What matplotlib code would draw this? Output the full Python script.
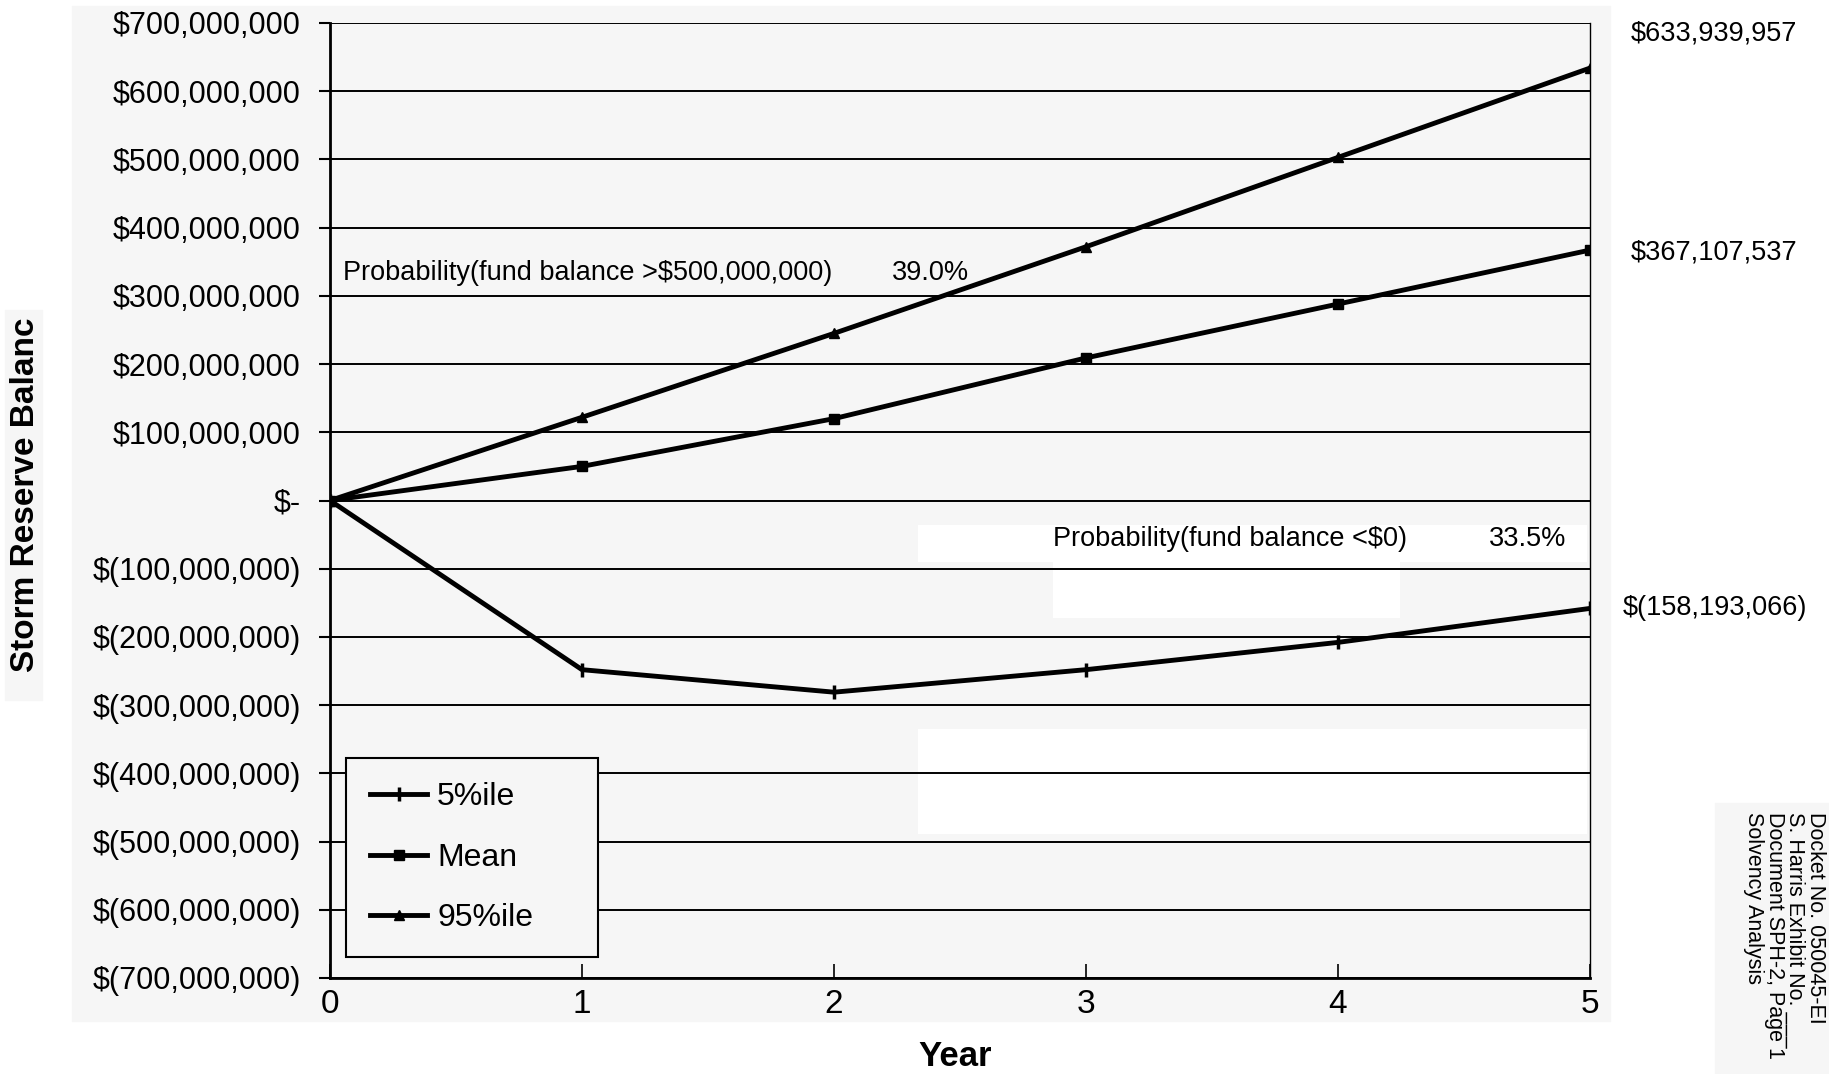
import matplotlib.pyplot as plt
from matplotlib.patches import Rectangle

years = [0, 1, 2, 3, 4, 5]
p05 = [0, -248e6, -281e6, -248e6, -208e6, -158.193066e6]
mean = [0, 50e6, 120e6, 209e6, 288e6, 367.107537e6]
p95 = [0, 122e6, 245e6, 372e6, 503e6, 633.939957e6]

y_ticks = [700e6, 600e6, 500e6, 400e6, 300e6, 200e6, 100e6, 0,
           -100e6, -200e6, -300e6, -400e6, -500e6, -600e6, -700e6]
y_labels = ["$700,000,000", "$600,000,000", "$500,000,000", "$400,000,000",
            "$300,000,000", "$200,000,000", "$100,000,000", "$-",
            "$(100,000,000)", "$(200,000,000)", "$(300,000,000)",
            "$(400,000,000)", "$(500,000,000)", "$(600,000,000)",
            "$(700,000,000)"]
end_labels = ["$633,939,957", "$367,107,537", "$(158,193,066)"]

plt.rcParams['font.family'] = ['Liberation Sans', 'DejaVu Sans']

W, H = 1829, 1074
fig = plt.figure(figsize=(W / 100, H / 100), dpi=100)
fig.patch.set_facecolor('white')

# light grey scanned background areas (pixel boxes -> figure fractions)
def fig_box(x0, y0, x1, y1, color='#f6f6f6'):
    fig.patches.append(Rectangle((x0 / W, 1 - y1 / H), (x1 - x0) / W, (y1 - y0) / H,
                                 transform=fig.transFigure, color=color, zorder=-5))

fig_box(72, 6, 1610, 1021)
fig_box(5, 310, 42, 700)
fig_box(1715, 803, 1829, 1074)

ax = fig.add_axes([330 / W, 1 - 978 / H, 1260 / W, 955 / H])
ax.set_facecolor('#f6f6f6')

# white patches left by the scan
def ax_box(x0, y0, x1, y1):
    ax.add_patch(Rectangle(((x0 - 330) / 1260, (978 - y1) / 955), (x1 - x0) / 1260,
                           (y1 - y0) / 955, transform=ax.transAxes, color='white',
                           zorder=0.2, lw=0))

ax_box(918, 525, 1587, 562)
ax_box(1053, 562, 1400, 618)
ax_box(918, 729, 1587, 834)

ax.plot(years, p05, color='black', lw=3.5, marker='|', ms=10, mew=2.5, label='5%ile', zorder=3)
ax.plot(years, mean, color='black', lw=3.5, marker='s', ms=7, label='Mean', zorder=3)
ax.plot(years, p95, color='black', lw=3.5, marker='^', ms=7, label='95%ile', zorder=3)

ax.set_xlim(0, 5)
ax.set_ylim(-700e6, 700e6)
ax.set_xticks(years)
ax.set_xticklabels([str(y) for y in years], fontsize=24)
ax.set_yticks(y_ticks)
ax.set_yticklabels(y_labels, fontsize=22)
ax.tick_params(axis='y', direction='out', length=8, width=1.5, pad=13)
ax.tick_params(axis='x', direction='in', length=10, width=1.2, pad=8)

ax.set_axisbelow(True)
ax.yaxis.grid(True, color='black', lw=1.4)
for s in ['left', 'bottom']:
    ax.spines[s].set_linewidth(2)
ax.spines['top'].set_visible(False)
ax.spines['right'].set_linewidth(1)

fig.text(26 / W, 1 - 495 / H, 'Storm Reserve Balanc', fontsize=24, fontweight='bold',
         rotation=90, ha='center', va='center')
fig.text(955 / W, 1 - 1057 / H, 'Year', fontsize=25, fontweight='bold',
         ha='center', va='center')

ax.text(0.05, 334e6, 'Probability(fund balance >$500,000,000)', fontsize=19.5,
        va='center', ha='left')
ax.text(2.23, 334e6, '39.0%', fontsize=19.5, va='center', ha='left')
ax.text(2.87, -56e6, 'Probability(fund balance <$0)', fontsize=19.5,
        va='center', ha='left')
ax.text(4.6, -56e6, '33.5%', fontsize=19.5, va='center', ha='left')

ax.text(5.16, 685e6, end_labels[0], fontsize=19.5, va='center', ha='left', clip_on=False)
ax.text(5.16, 363e6, end_labels[1], fontsize=19.5, va='center', ha='left', clip_on=False)
ax.text(5.13, -158e6, end_labels[2], fontsize=19.5, va='center', ha='left', clip_on=False)

leg = ax.legend(loc='lower left', bbox_to_anchor=(0.0127, 0.022, 0.2, 0.2), mode='expand',
                fontsize=23, frameon=True, fancybox=False, edgecolor='black',
                facecolor='#f6f6f6', framealpha=1, handlelength=1.8, labelspacing=0.95,
                borderpad=0.75, handletextpad=0.3, borderaxespad=0)
leg.get_frame().set_linewidth(1.5)

fig.text(1826 / W, 1 - 812 / H,
         'Docket No. 050045-EI\nS. Harris Exhibit No. ___\nDocument SPH-2, Page 1\nSolvency Analysis',
         rotation=-90, fontsize=15.5, ha='right', va='top', linespacing=0.98,
         multialignment='left')

fig.savefig('out.png', dpi=100)
